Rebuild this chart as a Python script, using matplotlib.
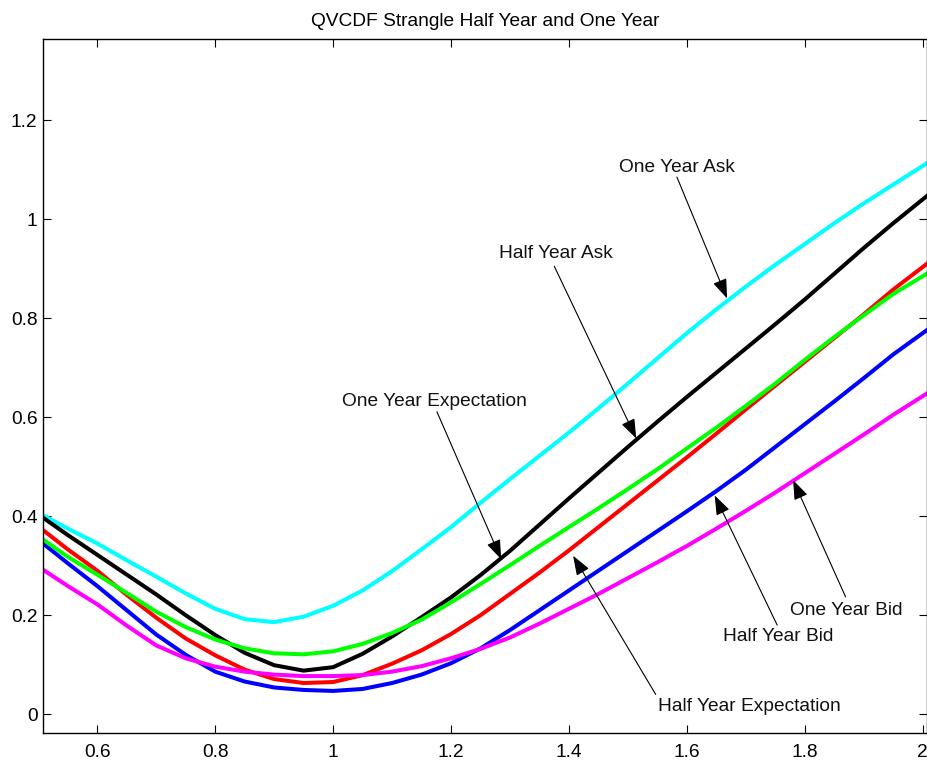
import matplotlib.pyplot as plt
from matplotlib.ticker import FuncFormatter

plt.rcParams['font.family'] = ['Liberation Sans', 'DejaVu Sans']

# moneyness grid
x = [0.508, 0.55, 0.6, 0.65, 0.7, 0.75, 0.8, 0.85, 0.9, 0.95, 1.0, 1.05,
     1.1, 1.15, 1.2, 1.25, 1.3, 1.35, 1.4, 1.45, 1.5, 1.55, 1.6, 1.65,
     1.7, 1.75, 1.8, 1.85, 1.9, 1.95, 2.007]

one_year_ask = [0.402, 0.375, 0.345, 0.311, 0.278, 0.244, 0.213, 0.192, 0.186, 0.197,
                0.219, 0.25, 0.289, 0.333, 0.378, 0.427, 0.475, 0.522, 0.569, 0.618,
                0.668, 0.719, 0.77, 0.818, 0.864, 0.908, 0.95, 0.992, 1.032, 1.07, 1.113]
half_year_ask = [0.397, 0.362, 0.322, 0.282, 0.242, 0.2, 0.16, 0.124, 0.099, 0.088,
                 0.095, 0.122, 0.157, 0.196, 0.236, 0.281, 0.33, 0.383, 0.436, 0.488,
                 0.54, 0.591, 0.641, 0.69, 0.739, 0.788, 0.838, 0.89, 0.942, 0.992, 1.047]
half_year_exp = [0.372, 0.333, 0.29, 0.241, 0.195, 0.153, 0.119, 0.09, 0.071, 0.063,
                 0.065, 0.079, 0.102, 0.129, 0.162, 0.2, 0.243, 0.286, 0.331, 0.378,
                 0.425, 0.472, 0.519, 0.567, 0.616, 0.664, 0.712, 0.76, 0.808, 0.858, 0.91]
one_year_exp = [0.353, 0.318, 0.282, 0.245, 0.207, 0.176, 0.151, 0.133, 0.123, 0.121,
                0.127, 0.142, 0.164, 0.191, 0.226, 0.263, 0.301, 0.34, 0.378, 0.416,
                0.455, 0.495, 0.537, 0.579, 0.623, 0.668, 0.716, 0.762, 0.806, 0.849, 0.89]
half_year_bid = [0.345, 0.305, 0.259, 0.21, 0.161, 0.12, 0.086, 0.066, 0.054, 0.049,
                 0.047, 0.051, 0.063, 0.08, 0.103, 0.133, 0.17, 0.21, 0.25, 0.29,
                 0.33, 0.37, 0.41, 0.451, 0.494, 0.54, 0.586, 0.632, 0.679, 0.727, 0.776]
one_year_bid = [0.292, 0.259, 0.222, 0.179, 0.139, 0.113, 0.096, 0.086, 0.08, 0.077,
                0.077, 0.079, 0.086, 0.097, 0.113, 0.132, 0.155, 0.183, 0.213, 0.243,
                0.275, 0.307, 0.34, 0.375, 0.411, 0.448, 0.487, 0.526, 0.565, 0.605, 0.648]

# label text, arrow tip, arrow start, text position
labels = ["One Year Ask", "Half Year Ask", "One Year Expectation",
          "Half Year Expectation", "Half Year Bid", "One Year Bid"]
tips = [(1.668, 0.840), (1.514, 0.557), (1.285, 0.313),
        (1.407, 0.320), (1.647, 0.442), (1.78, 0.473)]
starts = [(1.583, 1.085), (1.375, 0.905), (1.176, 0.611),
          (1.547, 0.040), (1.753, 0.180), (1.869, 0.237)]
text_pos = [(1.583, 1.105), (1.378, 0.931), (1.171, 0.632),
            (1.705, 0.016), (1.755, 0.156), (1.870, 0.210)]

fig = plt.figure(figsize=(9.28, 7.63), dpi=100)
ax = fig.add_axes([0.0463, 0.0393, 0.9526, 0.9096])

lw = 2.9
ax.plot(x, one_year_ask, color='#00ffff', lw=lw)
ax.plot(x, half_year_bid, color='#0000ff', lw=lw)
ax.plot(x, half_year_exp, color='#ff0000', lw=lw)
ax.plot(x, half_year_ask, color='black', lw=lw)
ax.plot(x, one_year_exp, color='#00ff00', lw=lw)
ax.plot(x, one_year_bid, color='#ff00ff', lw=lw)

for lab, tip, st, tp in zip(labels, tips, starts, text_pos):
    ax.annotate('', xy=tip, xytext=st,
                arrowprops=dict(arrowstyle='-|>,head_length=0.6,head_width=0.22',
                                mutation_scale=20, color='black', lw=0.8,
                                shrinkA=0, shrinkB=0))
    ax.text(tp[0], tp[1], lab, ha='center', va='center', fontsize=13.8, color='#111111')

ax.set_xlim(0.508, 2.007)
ax.set_ylim(-0.038, 1.364)
ax.set_xticks([0.6, 0.8, 1.0, 1.2, 1.4, 1.6, 1.8, 2.0])
ax.set_yticks([0, 0.2, 0.4, 0.6, 0.8, 1.0, 1.2])
fmt = FuncFormatter(lambda v, p: '%g' % round(v, 2))
ax.xaxis.set_major_formatter(fmt)
ax.yaxis.set_major_formatter(fmt)
ax.tick_params(direction='in', length=6, width=0.8, top=True, right=True,
               labelsize=13.8, colors='black')
ax.tick_params(axis='x', pad=8)
ax.tick_params(axis='y', pad=4)
for s in ax.spines.values():
    s.set_linewidth(1.0)

ax.set_title("QVCDF Strangle Half Year and One Year", fontsize=13.8, pad=9)

fig.savefig("out.png", dpi=100)
